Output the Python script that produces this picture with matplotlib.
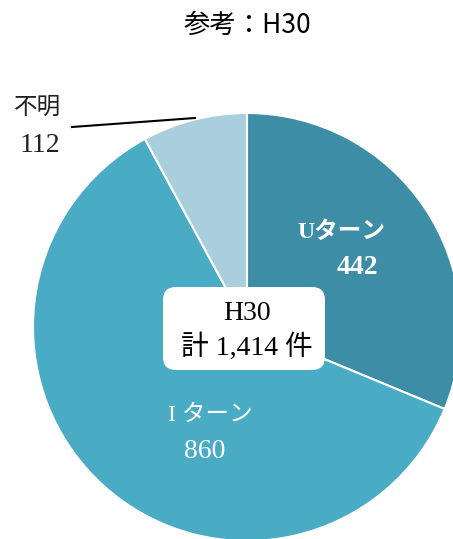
import matplotlib.pyplot as plt
from matplotlib.patches import FancyBboxPatch

labels = ["Uターン", "I ターン", "不明"]
values = [442, 860, 112]
colors = ["#3E8DA6", "#4AABC5", "#A9CEDC"]
total_label = "H30\n計 1,414 件"
title = "参考：H30"

serif = ["Liberation Serif", "Noto Sans CJK JP", "DejaVu Sans"]
sans = ["Noto Sans CJK JP", "DejaVu Sans"]

fig = plt.figure(figsize=(4.53, 5.39), dpi=100)
ax = fig.add_axes([0, 0, 1, 1])

# pie centre and radius in pixel units
cx, cy, r = 247, 539 - 327, 214
ax.pie(values, colors=colors, startangle=90, counterclock=False,
       center=(cx, cy), radius=r, frame=True,
       wedgeprops=dict(edgecolor="white", linewidth=1.5))
ax.set_xlim(0, 453)
ax.set_ylim(0, 539)
ax.axis("off")

# slice labels
ax.text(341, 539 - 232, labels[0], color="white", fontsize=17, fontweight="bold",
        ha="center", va="center", family=serif)
ax.text(357, 539 - 268, str(values[0]), color="white", fontsize=20, fontweight="bold",
        ha="center", va="center", family=serif)
ax.text(210, 539 - 415, labels[1], color="white", fontsize=17,
        ha="center", va="center", family=serif)
ax.text(205, 539 - 452, str(values[1]), color="white", fontsize=20,
        ha="center", va="center", family=serif)
ax.text(38, 539 - 108, labels[2], color="#222222", fontsize=17,
        ha="center", va="center", family=serif)
ax.text(40, 539 - 145, str(values[2]), color="#222222", fontsize=20,
        ha="center", va="center", family=serif)
ax.plot([72, 195], [539 - 127, 539 - 118], color="black", lw=1.5)

# centre box
box = FancyBboxPatch((163, 539 - 370), 162, 83,
                     boxstyle="round,pad=0,rounding_size=13",
                     fc="white", ec="none", zorder=3)
ax.add_patch(box)
ax.text(247, 539 - 313, "H30", fontsize=20, ha="center", va="center",
        family=serif, zorder=4)
ax.text(247, 539 - 347, "計 1,414 件", fontsize=20, ha="center", va="center",
        family=serif, zorder=4)

fig.text(247 / 453, 1 - 25 / 539, title, fontsize=19, ha="center", va="center",
         family=sans)

fig.savefig("out.png", dpi=100)
